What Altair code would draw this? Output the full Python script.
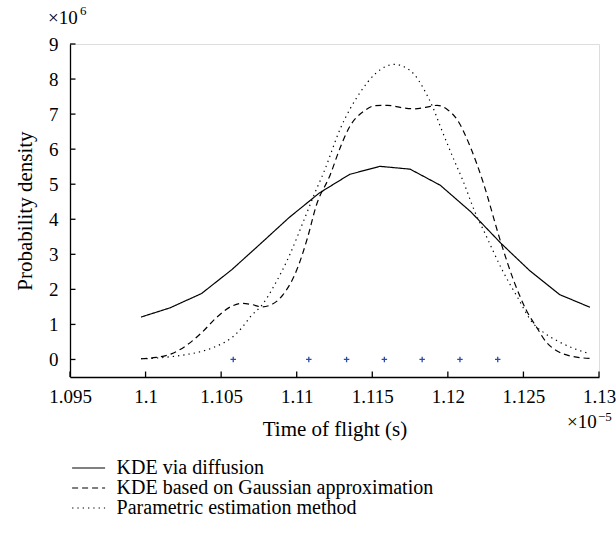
import altair as alt
import pandas as pd

FONT = "Liberation Serif"

series_names = ["KDE via diffusion", "KDE based on Gaussian approximation", "Parametric estimation method"]

diff_x = [1.0997, 1.1016, 1.1037, 1.1057, 1.1076, 1.1095, 1.1115, 1.1135, 1.1155, 1.1175,
          1.1195, 1.1215, 1.1235, 1.1254, 1.1274, 1.1294]
diff_y = [1.21, 1.47, 1.88, 2.56, 3.30, 4.05, 4.75, 5.28, 5.51, 5.43,
          4.97, 4.22, 3.32, 2.54, 1.85, 1.49]

gauss_x = [1.0997, 1.1007, 1.1017, 1.1027, 1.1037, 1.1047, 1.1057, 1.1064, 1.1070, 1.1077,
           1.1084, 1.1091, 1.1100, 1.1107, 1.1113, 1.1122, 1.1129, 1.1135, 1.1144, 1.1152,
           1.1160, 1.1170, 1.1178, 1.1186, 1.1193, 1.1200, 1.1206, 1.1215, 1.1223, 1.1235,
           1.1244, 1.1252, 1.1259, 1.1265, 1.1272, 1.1281, 1.1294]
gauss_y = [0.02, 0.06, 0.16, 0.40, 0.76, 1.20, 1.52, 1.60, 1.57, 1.50,
           1.58, 1.85, 2.55, 3.45, 4.40, 5.25, 6.07, 6.64, 7.07, 7.24,
           7.25, 7.18, 7.15, 7.20, 7.25, 7.12, 6.85, 6.05, 5.10, 3.35,
           2.20, 1.40, 0.90, 0.50, 0.25, 0.10, 0.03]

param_x = [1.0997, 1.1007, 1.1017, 1.1027, 1.1037, 1.1047, 1.1057, 1.1064, 1.1070, 1.1077,
           1.1085, 1.1095, 1.1105, 1.1112, 1.1118, 1.1129, 1.1142, 1.1152, 1.1160, 1.1165,
           1.1171, 1.1178, 1.1184, 1.1190, 1.1195, 1.1204, 1.1210, 1.1218, 1.1224, 1.1236,
           1.1246, 1.1256, 1.1264, 1.1272, 1.1283, 1.1294]
param_y = [0.02, 0.04, 0.08, 0.14, 0.23, 0.38, 0.62, 0.92, 1.25, 1.55,
           2.10, 2.95, 4.00, 4.75, 5.35, 6.60, 7.62, 8.15, 8.38, 8.42,
           8.35, 8.12, 7.72, 7.20, 6.65, 5.70, 5.10, 4.20, 3.65, 2.55,
           1.78, 1.05, 0.75, 0.54, 0.32, 0.16]

sample_x = [1.1058, 1.1108, 1.1133, 1.1158, 1.1183, 1.1208, 1.1233]
sample_y = [0, 0, 0, 0, 0, 0, 0]

x_ticks = [1.095, 1.1, 1.105, 1.11, 1.115, 1.12, 1.125, 1.13]
y_ticks = [0, 1, 2, 3, 4, 5, 6, 7, 8, 9]

W, H = 529, 333

df_solid = pd.DataFrame({"t": diff_x, "p": diff_y, "series": series_names[0]})
df_smooth = pd.concat([
    pd.DataFrame({"t": gauss_x, "p": gauss_y, "series": series_names[1]}),
    pd.DataFrame({"t": param_x, "p": param_y, "series": series_names[2]}),
])
df_samples = pd.DataFrame({"t": sample_x, "p": sample_y})
df_xt = pd.DataFrame({"t": x_ticks, "p": [-0.5] * len(x_ticks)})
df_yt = pd.DataFrame({"t": [1.095] * len(y_ticks), "p": y_ticks})

xscale = alt.Scale(domain=[1.095, 1.13], nice=False, zero=False)
yscale = alt.Scale(domain=[-0.5, 9], nice=False, zero=False)

x_axis = alt.Axis(
    values=x_ticks, format="~g", ticks=False, grid=False, title="Time of flight (s)",
    labelPadding=10, titlePadding=12, domainColor="black", domainWidth=1.3,
    labelOverlap=False, labelFlush=False, labelFontSize=19, titleFontSize=21,
    labelFont=FONT, titleFont=FONT,
    labelColor="black", titleColor="black", titleFontWeight="normal")
y_axis = alt.Axis(
    values=y_ticks, ticks=False, grid=False, title="Probability density",
    labelPadding=12, titlePadding=13, domainColor="black", domainWidth=1.3,
    labelOverlap=False, labelFlush=False, labelFontSize=19, titleFontSize=21,
    labelFont=FONT, titleFont=FONT,
    labelColor="black", titleColor="black", titleFontWeight="normal")

x_enc = alt.X("t:Q", scale=xscale, axis=x_axis)
y_enc = alt.Y("p:Q", scale=yscale, axis=y_axis)

dash_scale = alt.Scale(domain=series_names, range=[[1, 0], [6, 4], [1.3, 4]])
dash = alt.StrokeDash("series:N", scale=dash_scale,
                      legend=alt.Legend(title=None, orient="none", legendX=8.6, legendY=414,
                                        symbolType="M-3,0L3,0", symbolSize=121,
                                        symbolStrokeColor="black", symbolFillColor="transparent",
                                        symbolStrokeWidth=1.2, labelFont=FONT, labelFontSize=20,
                                        labelColor="black", labelOffset=18, rowPadding=0,
                                        padding=0, labelLimit=500))

solid = alt.Chart(df_solid).mark_line(color="black", strokeWidth=1.2).encode(
    x=x_enc, y=y_enc, strokeDash=dash, detail="series:N")
smooth = alt.Chart(df_smooth).mark_line(color="black", strokeWidth=1.2, interpolate="monotone").encode(
    x=x_enc, y=y_enc, strokeDash=dash, detail="series:N")

samples = alt.Chart(df_samples).mark_point(
    shape="M-1,0L1,0M0,-1L0,1", size=30, filled=False, color="#2b4ba8", strokeWidth=1.3, opacity=1
).encode(x=x_enc, y=y_enc)

# inward-pointing tick marks on the left and bottom axes (drawn as short paths)
xticks = alt.Chart(df_xt).mark_point(
    shape="M0,0L0,-2", size=30, filled=False, color="black", strokeWidth=1.3, opacity=1
).encode(x=x_enc, y=y_enc)
yticks = alt.Chart(df_yt).mark_point(
    shape="M0,0L2,0", size=30, filled=False, color="black", strokeWidth=1.3, opacity=1
).encode(x=x_enc, y=y_enc)

def label(txt, xv, yv, size):
    return alt.Chart(pd.DataFrame({"s": [txt]})).mark_text(
        font=FONT, fontSize=size, color="black", align="left", baseline="alphabetic"
    ).encode(x=alt.value(xv), y=alt.value(yv), text="s:N")

annots = [
    label("×10", -22, -20, 19),
    label("6", 10, -29, 13),
    label("×10", 497, 384, 19),
    label("−5", 528, 377, 13),
]

chart = alt.layer(solid, smooth, samples, xticks, yticks, *annots).properties(
    width=W, height=H,
    autosize=alt.AutoSizeParams(type="none"),
    padding={"left": 70, "top": 44, "right": 17, "bottom": 156},
).configure_view(stroke="black", strokeWidth=1.3).configure(background="white")

chart.save("out.html", embed_options={"renderer": "svg", "actions": False})
